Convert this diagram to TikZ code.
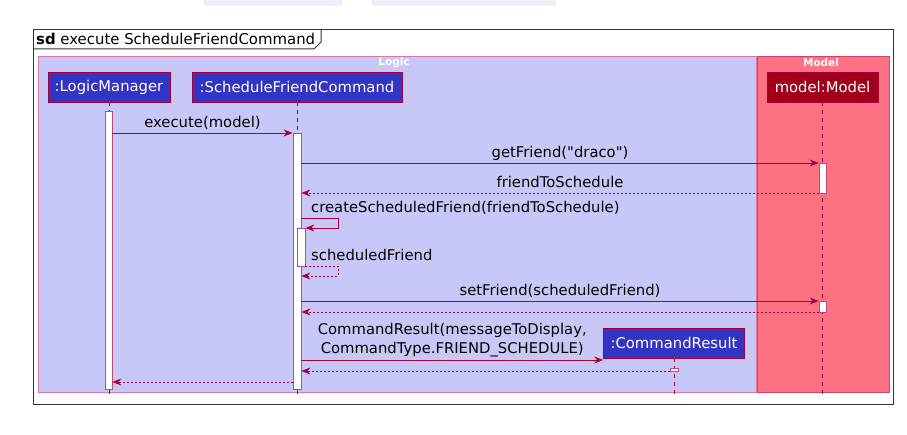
\documentclass[tikz,border=0pt]{standalone}
\usepackage{fontspec}
\setmainfont{DejaVu Sans}
\setmonofont{DejaVu Sans}
\usetikzlibrary{arrows.meta}
\definecolor{crim}{HTML}{A80036}
\definecolor{logicfill}{HTML}{C8C8F8}
\definecolor{logicdraw}{HTML}{D77BA4}
\definecolor{modelfill}{HTML}{FC7282}
\definecolor{modeldraw}{HTML}{D84068}
\definecolor{partblue}{HTML}{3434C4}
\definecolor{partred}{HTML}{A0001A}
\definecolor{topbox}{HTML}{EEEEFB}
\definecolor{actdraw}{HTML}{C8487A}
\begin{document}
\begin{tikzpicture}[x=1pt,y=-1pt,
 part/.style={draw=crim, line width=0.8pt, text=white, font=\fontsize{14.8}{16}\selectfont, inner sep=0pt, minimum height=30pt},
 act/.style={draw=actdraw, fill=white, line width=0.8pt, minimum width=7pt, inner sep=0pt},
 life/.style={draw=crim, line width=0.8pt, dash pattern=on 4pt off 4pt},
 msg/.style={draw=crim, line width=0.8pt, -{Stealth[length=9pt,width=7pt,inset=3pt]}},
 ret/.style={msg, dash pattern=on 2pt off 2pt},
 lbl/.style={font=\fontsize{14.8}{18.5}\selectfont, text=black, inner sep=0pt, anchor=base},
 grp/.style={font=\bfseries\fontsize{10.5}{12}\selectfont, text=white, inner sep=0pt},
 grpbox/.style={inner sep=0pt, line width=0.8pt}
]
\useasboundingbox (0,0) rectangle (907,435);
% cut-off boxes at the top
\draw[rounded corners=3pt, fill=topbox, draw=topbox!85!gray] (204,-10) rectangle (342,5.5);
\draw[rounded corners=3pt, fill=topbox, draw=topbox!85!gray] (372,-10) rectangle (556,5.5);

% frame
\draw[draw=black!80, line width=1pt] (33,29.5) rectangle (893,404);
\draw[draw=black!80, line width=1pt] (33,49) -- (314,49) -- (321,42) -- (321,29.5);
\node[anchor=base west, inner sep=0pt, font=\fontsize{14.9}{16}\selectfont] (title) at (36,45) {\textbf{sd} execute ScheduleFriendCommand};

% groups
\node[grpbox, draw=logicdraw, fill=logicfill, minimum width=718pt, minimum height=336pt] (logic) at (397,224) {};
\node[grp] (logiclbl) at (394,63) {Logic};
\node[grpbox, draw=modeldraw, fill=modelfill, minimum width=132pt, minimum height=336pt] (modelgrp) at (823,224) {};
\node[grp] (modellbl) at (821,63) {Model};

% coordinates
\coordinate (bot) at (0,397);
\coordinate (y133) at (0,133);
\coordinate (y163) at (0,163);
\coordinate (y193) at (0,193);
\coordinate (y218) at (0,218);
\coordinate (y228) at (0,228);
\coordinate (y266) at (0,266);
\coordinate (y276) at (0,276);
\coordinate (y301) at (0,301);
\coordinate (y312) at (0,312);
\coordinate (y360) at (0,360);
\coordinate (y371) at (0,371);
\coordinate (y382) at (0,382);
\coordinate (sx1) at (338,218);
\coordinate (sx2) at (338,228);
\coordinate (sx3) at (338,266);
\coordinate (sx4) at (338,276);

% participants
\node[part, fill=partblue, minimum width=122pt] (lm) at (109,87) {:LogicManager};
\node[part, fill=partblue, minimum width=210pt] (sfc) at (297,87) {:ScheduleFriendCommand};
\node[part, fill=partred, minimum width=111pt] (mdl) at (822.5,87) {model:Model};

% lifelines
\draw[life] (lm.south) -- (lm.south |- bot);
\draw[life] (sfc.south) -- (sfc.south |- bot);
\draw[life] (mdl.south) -- (mdl.south |- bot);

\node[part, fill=partblue, minimum width=141pt] (cr) at (674,343) {:CommandResult};
\draw[life] (cr.south) -- (cr.south |- bot);

% activation bars
\node[act, minimum height=278pt] (lmA) at (108.5,250) {};
\node[act, minimum width=8pt, minimum height=256pt] (sfcA) at (297,261) {};
\node[act, minimum width=8pt, minimum height=38pt] (sfcB) at (301,247) {};
\node[act, minimum height=30pt] (mA) at (822.5,178) {};
\node[act, minimum height=11pt] (mB) at (822.5,306.5) {};
\node[act, minimum width=8pt, minimum height=3pt] (crA) at (674,370) {};

% messages
\draw[msg] (lmA.east |- y133) -- node[lbl, midway, yshift=5pt] {execute(model)} (sfcA.west |- y133);
\draw[msg] (sfcA.east |- y163) -- node[lbl, midway, yshift=5pt] {getFriend(\texttt{"}draco\texttt{"})} (mA.west |- y163);
\draw[ret] (mA.west |- y193) -- node[lbl, midway, yshift=5pt] {friendToSchedule} (sfcA.east |- y193);
\draw[msg] (sfcA.east |- y218) -- (sx1) -- (sx2) -- (sfcB.east |- y228);
\node[lbl, anchor=base west] (l1) at (311,213) {createScheduledFriend(friendToSchedule)};
\draw[ret] (sfcB.east |- y266) -- (sx3) -- (sx4) -- (sfcA.east |- y276);
\node[lbl, anchor=base west] (l2) at (311,261) {scheduledFriend};
\draw[msg] (sfcA.east |- y301) -- node[lbl, midway, yshift=5pt] {setFriend(scheduledFriend)} (mB.west |- y301);
\draw[ret] (mB.west |- y312) -- (sfcA.east |- y312);
\draw[msg] (sfcA.east |- y360) -- node[lbl, midway, anchor=south, yshift=3pt, align=center] {CommandResult(messageToDisplay,\\CommandType.FRIEND\_SCHEDULE)} (cr.west |- y360);
\draw[ret] (crA.west |- y371) -- (sfcA.east |- y371);
\draw[ret] (sfcA.west |- y382) -- (lmA.east |- y382);
\end{tikzpicture}
\end{document}
